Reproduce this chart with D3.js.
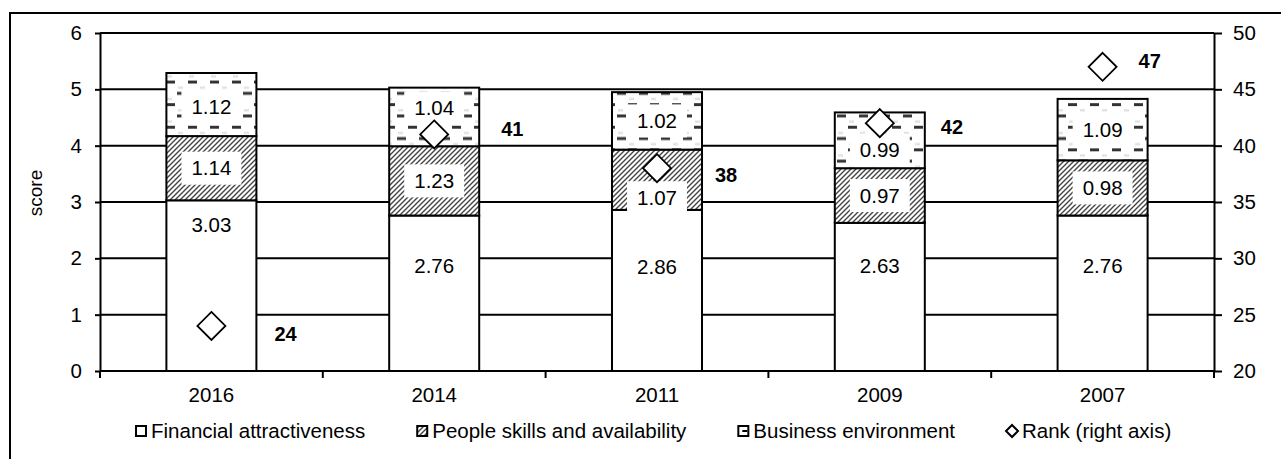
<!DOCTYPE html>
<html><head><meta charset="utf-8">
<script src="https://cdn.jsdelivr.net/npm/d3@7"></script>
<style>
body{margin:0;background:#fff}
svg{display:block}
text{font-family:"Liberation Sans",Arial,sans-serif;fill:#000}
</style>
</head><body>
<svg id="chart" width="1281" height="459"></svg>
<script>
// ---- data ----
const categories = ["2016","2014","2011","2009","2007"];
const financial = [3.03, 2.76, 2.86, 2.63, 2.76];
const people    = [1.14, 1.23, 1.07, 0.97, 0.98];
const business  = [1.12, 1.04, 1.02, 0.99, 1.09];
const rank      = [24, 41, 38, 42, 47];
const scoreTicks = [0,1,2,3,4,5,6];
const rankTicks  = [20,25,30,35,40,45,50];
const seriesNames = ["Financial attractiveness","People skills and availability","Business environment","Rank (right axis)"];
const scoreTitle = "score";

// ---- label nudges (px, layout only) ----
const finLabelDy      = [-61,-27,-24,-31,-27];
const peopleLabelDy   = [0,0,18,0,0];
const businessLabelDy = [2,-9,0,10,0];
const rankLabelDx     = [63,67,58,61,36];
const rankLabelDy     = [8,-5,7,4,-6];

const svg = d3.select("#chart");
const L = 100, R = 1214, T = 33, B = 371;
const FS = 20.5;

const y  = d3.scaleLinear().domain([0,6]).range([B,T]);
const yR = d3.scaleLinear().domain([20,50]).range([B,T]);
const x  = d3.scaleBand().domain(categories).range([L,R]).paddingInner(0.596).paddingOuter(0.298);

// ---- patterns ----
const defs = svg.append("defs");
const hatch = defs.append("pattern").attr("id","hatch").attr("patternUnits","userSpaceOnUse")
  .attr("width",5).attr("height",5);
hatch.append("rect").attr("width",5).attr("height",5).attr("fill","#fff");
hatch.append("path").attr("d","M-1,1 L1,-1 M0,5 L5,0 M4,6 L6,4")
  .attr("stroke","#444").attr("stroke-width",1.4);

const dash = defs.append("pattern").attr("id","dash").attr("patternUnits","userSpaceOnUse")
  .attr("width",22).attr("height",22.6);
dash.append("rect").attr("width",22).attr("height",22.6).attr("fill","#fff");
dash.append("path").attr("d","M1,3 H10 M12,14.3 H21").attr("stroke","#333").attr("stroke-width",3);
dash.append("path").attr("d","M13,8.6 H18 M2,19.9 H7").attr("stroke","#e2e2e2").attr("stroke-width",2.5);

// ---- outer frame ----
svg.append("rect").attr("x",10).attr("y",13).attr("width",1400).attr("height",600)
  .attr("fill","none").attr("stroke","#000").attr("stroke-width",2);

// ---- gridlines ----
svg.append("g").selectAll("line").data(scoreTicks).join("line")
  .attr("x1",L).attr("x2",R).attr("y1",d=>y(d)).attr("y2",d=>y(d))
  .attr("stroke","#000").attr("stroke-width",2);

// ---- axes ----
const gl = svg.append("g").attr("transform",`translate(${L},0)`)
  .call(d3.axisLeft(y).tickValues(scoreTicks).tickFormat(d3.format("d")).tickSize(5).tickSizeOuter(0).tickPadding(13));
const gr = svg.append("g").attr("transform",`translate(${R},0)`)
  .call(d3.axisRight(yR).tickValues(rankTicks).tickFormat(d3.format("d")).tickSize(8).tickSizeOuter(0).tickPadding(11));
[gl,gr].forEach(g=>{
  g.selectAll("path,line").attr("stroke","#000").attr("stroke-width",2);
  g.selectAll("text").attr("font-size",FS).attr("font-family","Liberation Sans, Arial, sans-serif");
});

// x axis baseline, boundary ticks and labels
const step = x.step(), gap = step - x.bandwidth();
const bounds = categories.map(c=>x(c)-gap/2).concat([x(categories[categories.length-1])+x.bandwidth()+gap/2]);
svg.append("line").attr("x1",L).attr("x2",R).attr("y1",B).attr("y2",B).attr("stroke","#000").attr("stroke-width",2);
svg.append("g").selectAll("line").data(bounds).join("line")
  .attr("x1",d=>d).attr("x2",d=>d).attr("y1",B).attr("y2",B+7)
  .attr("stroke","#000").attr("stroke-width",2);
svg.append("g").selectAll("text").data(categories).join("text")
  .attr("x",d=>x(d)+x.bandwidth()/2).attr("y",402)
  .attr("text-anchor","middle").attr("font-size",FS).text(d=>d);

// axis title
svg.append("text").attr("transform",`translate(42,${(T+B)/2-9}) rotate(-90)`)
  .attr("text-anchor","middle").attr("font-size",19).text(scoreTitle);

// ---- stacked bars ----
const rows = categories.map((c,i)=>({cat:c, financial:financial[i], people:people[i], business:business[i]}));
const keys = ["financial","people","business"];
const fills = {financial:"#fff", people:"url(#hatch)", business:"url(#dash)"};
const nudges = {financial:finLabelDy, people:peopleLabelDy, business:businessLabelDy};
const stack = d3.stack().keys(keys)(rows);

const gBars = svg.append("g");
stack.forEach(s=>{
  gBars.append("g").selectAll("rect").data(s).join("rect")
    .attr("x",d=>x(d.data.cat)).attr("width",x.bandwidth())
    .attr("y",d=>y(d[1])).attr("height",d=>y(d[0])-y(d[1]))
    .attr("fill",fills[s.key]).attr("stroke","#000").attr("stroke-width",2);
});

// ---- segment labels ----
const gLab = svg.append("g");
stack.forEach(s=>{
  s.forEach((d,i)=>{
    const cx = x(d.data.cat)+x.bandwidth()/2;
    const cy = y((d[0]+d[1])/2) + nudges[s.key][i];
    const val = d.data[s.key].toFixed(2);
    const g = gLab.append("g");
    const r = g.append("rect").attr("fill","#fff");
    const t = g.append("text").attr("x",cx).attr("y",cy).attr("dy","0.35em")
      .attr("text-anchor","middle").attr("font-size",FS).text(val);
    const w = t.node().getComputedTextLength();
    r.attr("x",cx-w/2-10).attr("width",w+20).attr("y",cy-16.5).attr("height",33);
  });
});

// ---- rank diamonds ----
const diamond = r => `M0,${-r} L${r},0 L0,${r} L${-r},0 Z`;
const gRank = svg.append("g");
rank.forEach((v,i)=>{
  const cx = x(categories[i])+x.bandwidth()/2, cy = yR(v);
  gRank.append("path").attr("d",diamond(14)).attr("transform",`translate(${cx},${cy})`)
    .attr("fill","#fff").attr("stroke","#000").attr("stroke-width",1.8);
  gRank.append("text").attr("x",cx+rankLabelDx[i]).attr("y",cy+rankLabelDy[i]).attr("dy","0.35em")
    .attr("font-size",20).attr("font-weight","bold").text(v);
});

// ---- legend ----
const gLeg = svg.append("g");
let lx = 135;
const ly = 431;
seriesNames.forEach((name,i)=>{
  if(i<3){
    gLeg.append("rect").attr("x",lx+1).attr("y",ly-5).attr("width",10).attr("height",10)
      .attr("fill", i===1?"url(#hatch)":"#fff").attr("stroke","#000").attr("stroke-width",2);
    if(i===2) gLeg.append("line").attr("x1",lx+5).attr("x2",lx+10).attr("y1",ly).attr("y2",ly)
      .attr("stroke","#000").attr("stroke-width",2);
  } else {
    gLeg.append("path").attr("d",diamond(6)).attr("transform",`translate(${lx+6},${ly})`)
      .attr("fill","#fff").attr("stroke","#000").attr("stroke-width",2);
  }
  const t = gLeg.append("text").attr("x",lx+16).attr("y",ly+7).attr("font-size",FS).text(name);
  lx = lx + 16 + t.node().getComputedTextLength() + 51;
});
</script>
</body></html>
